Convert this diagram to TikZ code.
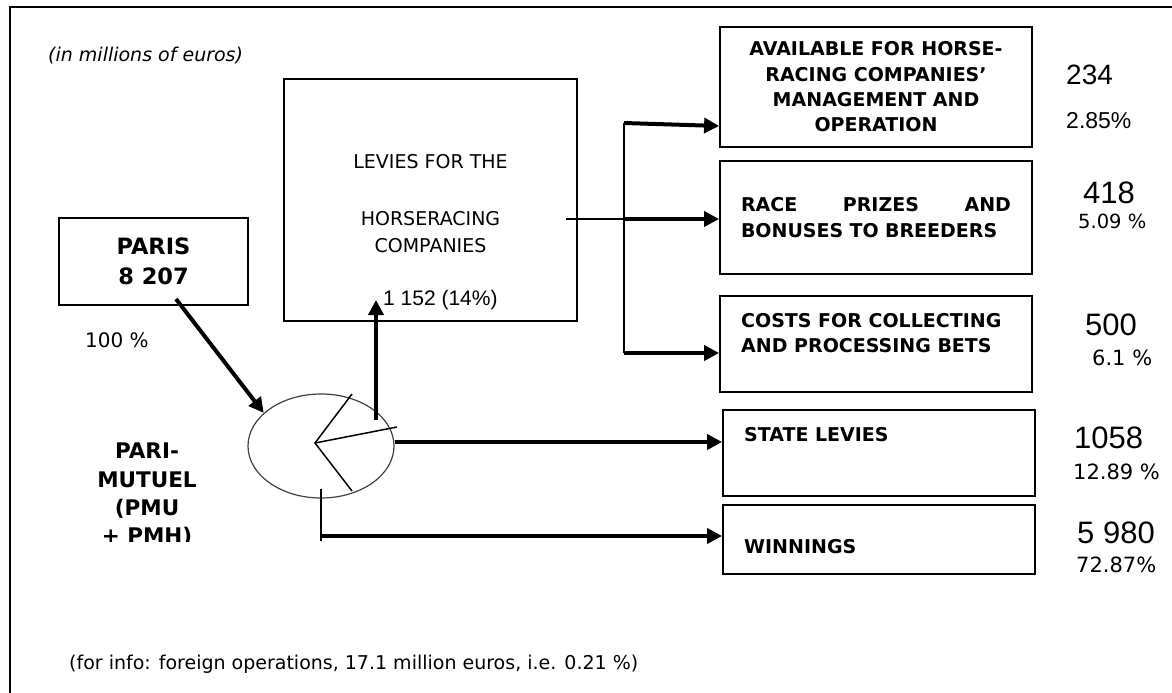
\documentclass[tikz,border=0pt]{standalone}
\usepackage{fontspec}
\setmainfont{DejaVu Sans}
\newfontfamily\arialfont{Liberation Sans}
\usetikzlibrary{arrows.meta,shapes.geometric}

\begin{document}
\begin{tikzpicture}[x=1pt,y=-1pt,>={Triangle[length=15pt,width=15pt]},
  box/.style={draw,line width=1.8pt,inner sep=0pt},
  flow/.style={->,line width=4pt},
  thinline/.style={line width=1.5pt},
  lbl/.style={anchor=west,inner sep=0pt},
  boldtxt/.style={font=\fontsize{19}{25.3}\selectfont\bfseries}]
\useasboundingbox (0,0) rectangle (1172,693);
% outer frame (right and bottom sides cut off)
\draw[line width=1.8pt] (10,693) -- (10,7) -- (1172,7);
\node[lbl,font=\fontsize{19}{23}\selectfont\itshape] (unit) at (48,56) {(in millions of euros)};

% stakes and the pari-mutuel
\node[box,minimum width=189pt,minimum height=87pt,align=center,
  font=\fontsize{22.5}{30}\selectfont\bfseries] (paris) at (153.5,261.5) {PARIS\\8 207};
\node[lbl,font=\fontsize{20}{24}\selectfont] (parispct) at (85,340) {100 \%};
\begin{scope}
\clip (40,420) rectangle (250,541.5);
\node[align=center,font=\fontsize{21.5}{28.3}\selectfont\bfseries] (pmutxt) at (147,495)
  {PARI-\\MUTUEL\\(PMU\\+ PMH)};
\end{scope}
\node[ellipse,draw=black!75,line width=1.2pt,minimum width=146pt,minimum height=104pt,inner sep=0pt] (pmu) at (321,446) {};
\coordinate (hub) at (315,443);
\draw[thinline] (352,394) -- (hub) -- (352,491);
\draw[thinline] (hub) -- (397,427);

% levies for the horseracing companies
\node[box,minimum width=293pt,minimum height=242pt] (levies) at (430.5,200) {};
\node[font=\fontsize{19}{27}\selectfont] (levtxt) at (430.5,162) {LEVIES FOR THE};
\node[align=center,font=\fontsize{19}{27}\selectfont] (levtxt2) at (430.5,232.5) {HORSERACING\\COMPANIES};
\node[lbl,font=\arialfont\fontsize{21}{24}\selectfont] (levamt) at (383,300) {1 152 (14\%)};

% destination boxes
\node[box,minimum width=312pt,minimum height=120pt,align=center,boldtxt] (avail) at (876,87)
  {AVAILABLE FOR HORSE-\\RACING COMPANIES’\\MANAGEMENT AND\\OPERATION};
\node[box,minimum width=312pt,minimum height=113pt,text width=270pt,align=left,boldtxt] (prizes) at (876,217.5)
  {RACE\hfill PRIZES\hfill AND\\BONUSES TO BREEDERS};
\node[box,minimum width=312pt,minimum height=96pt] (costs) at (876,344) {};
\node[lbl,align=left,boldtxt] (coststxt) at (741,333) {COSTS FOR COLLECTING\\AND PROCESSING BETS};
\node[box,minimum width=312pt,minimum height=86pt] (state) at (879,453) {};
\node[lbl,boldtxt] (statetxt) at (744,435) {STATE LEVIES};
\node[box,minimum width=312pt,minimum height=69pt] (winnings) at (879,539.5) {};
\node[lbl,boldtxt] (wintxt) at (744,547) {WINNINGS};

% amounts and shares
\node[lbl,font=\arialfont\fontsize{28}{30}\selectfont] (availamt) at (1066,75) {234};
\node[lbl,font=\arialfont\fontsize{23}{26}\selectfont] (availpct) at (1066,121) {2.85\%};
\node[lbl,font=\arialfont\fontsize{31}{33}\selectfont] (prizesamt) at (1083,193) {418};
\node[lbl,font=\fontsize{19.5}{22}\selectfont] (prizespct) at (1078,221) {5.09 \%};
\node[lbl,font=\arialfont\fontsize{31}{33}\selectfont] (costsamt) at (1085,325) {500};
\node[lbl,font=\fontsize{21}{24}\selectfont] (costspct) at (1092,358) {6.1 \%};
\node[lbl,font=\arialfont\fontsize{31}{33}\selectfont] (stateamt) at (1074,438) {1058};
\node[lbl,font=\fontsize{21}{24}\selectfont] (statepct) at (1073,472) {12.89 \%};
\node[lbl,font=\arialfont\fontsize{31}{33}\selectfont] (winamt) at (1077,533) {5 980};
\node[lbl,font=\fontsize{21}{24}\selectfont] (winpct) at (1076,565) {72.87\%};

% flows
\coordinate (paristail) at (176,299);
\draw[flow] (paristail) -- (pmu.150);
\coordinate (upfoot) at (376,420);
\coordinate (uptip) at (376,300);
\draw[flow] (upfoot) -- (uptip);
\coordinate (stfoot) at ([yshift=4pt]pmu.east);
\draw[flow] (stfoot) -- (stfoot -| state.west);
\coordinate (wtop) at (321,489);
\coordinate (wfoot) at (321,536);
\draw[thinline] (wtop) -- (321,541);
\draw[flow] (wfoot) -- (wfoot -| winnings.west);
\coordinate (busmid) at (624,219);
\coordinate (bustop) at (624,123);
\coordinate (busbot) at (624,353);
\draw[thinline] (566,219) -- (busmid);
\draw[thinline] (bustop) -- (busbot);
\draw[flow] (bustop) -- (avail.west |- 0,126);
\draw[flow] (busmid) -- (busmid -| prizes.west);
\draw[flow] (busbot) -- (busbot -| costs.west);

\node[lbl,font=\fontsize{19}{23}\selectfont] (note) at (69,664)
  {(for info: foreign operations, 17.1 million euros, i.e. 0.21 \%)};
\end{tikzpicture}
\end{document}
